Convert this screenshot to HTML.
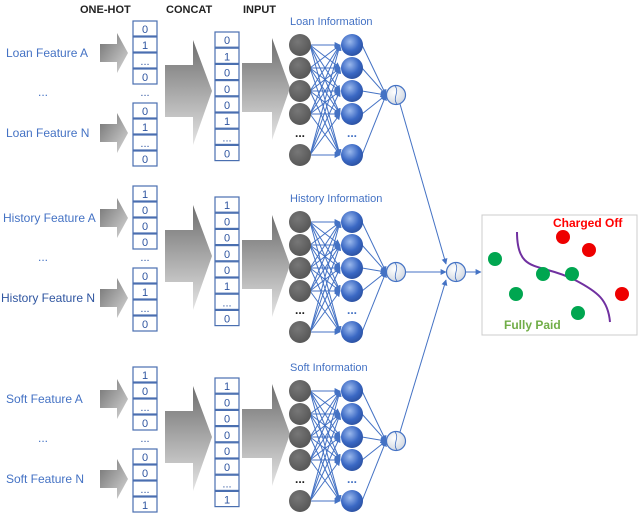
<!DOCTYPE html>
<html><head><meta charset="utf-8"><style>
html,body{margin:0;padding:0;background:#fff;}
svg{display:block;font-family:"Liberation Sans",sans-serif;}
</style></head><body>
<svg id="s" width="640" height="519" viewBox="0 0 640 519" xmlns="http://www.w3.org/2000/svg">
<defs>
<linearGradient id="ga" x1="0" y1="0" x2="0" y2="1"><stop offset="0" stop-color="#6e6e6e"/><stop offset="1" stop-color="#e4e4e4"/></linearGradient>
<linearGradient id="gs" x1="0" y1="0" x2="1" y2="1"><stop offset="0" stop-color="#707070"/><stop offset="1" stop-color="#d8d8d8"/></linearGradient>
<radialGradient id="gh" cx="0.4" cy="0.35" r="0.7"><stop offset="0" stop-color="#9ab8ec"/><stop offset="0.6" stop-color="#3a68c4"/><stop offset="1" stop-color="#2a4f9e"/></radialGradient>
<radialGradient id="gi" cx="0.4" cy="0.35" r="0.7"><stop offset="0" stop-color="#777"/><stop offset="1" stop-color="#555"/></radialGradient>
<radialGradient id="go" cx="0.4" cy="0.35" r="0.7"><stop offset="0" stop-color="#fff"/><stop offset="1" stop-color="#cfd6e0"/></radialGradient>
<marker id="ar" viewBox="0 0 10 10" refX="9" refY="5" markerWidth="6" markerHeight="6" orient="auto"><path d="M0,0L10,5L0,10z" fill="#4472c4"/></marker>
</defs>
<g font-size="11" font-weight="bold" fill="#222">
<text x="80" y="13">ONE-HOT</text><text x="166" y="13">CONCAT</text><text x="243" y="13">INPUT</text>
</g>
<g id="g"></g>
<rect x="482" y="215" width="155" height="120" fill="#fff" stroke="#ccc"/>
<path d="M517,232 C517,275 540,262 575,280 C598,292 608,300 610,322" fill="none" stroke="#7030a0" stroke-width="2"/>
<g fill="#e00"><circle cx="563" cy="237" r="7"/><circle cx="589" cy="250" r="7"/><circle cx="622" cy="294" r="7"/></g>
<g fill="#00a650"><circle cx="495" cy="259" r="7"/><circle cx="543" cy="274" r="7"/><circle cx="572" cy="274" r="7"/><circle cx="516" cy="294" r="7"/><circle cx="578" cy="313" r="7"/></g>
<text x="553" y="227" font-size="12" font-weight="bold" fill="#f00">Charged Off</text>
<text x="504" y="329" font-size="12" font-weight="bold" fill="#70ad47">Fully Paid</text>
</svg>
<script>
var g=document.getElementById('g'),h='';
var secs=[
 {l:0,r:0,title:'Loan Information',A:'Loan Feature A',N:'Loan Feature N',o1:['0','1','...','0'],o2:['0','1','...','0'],c:['0','1','0','0','0','1','...','0']},
 {l:165,r:177,title:'History Information',A:'History Feature A',N:'History Feature N',o1:['1','0','0','0'],o2:['0','1','...','0'],c:['1','0','0','0','0','1','...','0']},
 {l:346,r:346,title:'Soft Information',A:'Soft Feature A',N:'Soft Feature N',o1:['1','0','...','0'],o2:['0','0','...','1'],c:['1','0','0','0','0','0','...','1']}
];
function cells(x,y,w,hh,arr){var s='';arr.forEach(function(t,i){var yy=y+i*hh;s+='<rect x="'+x+'" y="'+yy+'" width="'+w+'" height="'+(hh-1)+'" fill="#fff" stroke="#4a6fb0" stroke-width="1.2"/><text x="'+(x+w/2)+'" y="'+(yy+hh-4)+'" text-anchor="middle" font-size="11" fill="#2f55a0">'+t+'</text>';});return s;}
function sarrow(cy){return '<path d="M100,'+(cy-9)+'H117V'+(cy-20)+'L128,'+cy+'L117,'+(cy+20)+'V'+(cy+9)+'H100z" fill="url(#gs)"/>';}
secs.forEach(function(S,k){
 var L=S.l,R=S.r;
 h+='<text x="'+(k==1?3:6)+'" y="'+(57+L)+'" font-size="12" fill="#4472c4">'+S.A+'</text>';
 h+='<text x="38" y="'+(96+L)+'" font-size="12" fill="#4472c4">...</text>';
 h+='<text x="'+(k==1?1:6)+'" y="'+(137+L)+'" font-size="12" fill="'+(k==1?'#2f55a0':'#4472c4')+'">'+S.N+'</text>';
 h+=sarrow(53+L)+sarrow(133+L);
 h+=cells(133,21+L,24,16,S.o1)+cells(133,103+L,24,16,S.o2);
 h+='<text x="145" y="'+(96+L)+'" font-size="11" fill="#2f55a0" text-anchor="middle">...</text>';
 h+='<path d="M165,'+(65+L)+'H193V'+(40+L)+'L212,'+(91+L)+'L193,'+(145+L)+'V'+(117+L)+'H165z" fill="url(#ga)"/>';
 h+=cells(215,32+L,24,16.2,S.c);
 h+='<path d="M242,'+(63+R)+'H272V'+(38+R)+'L290,'+(88+R)+'L272,'+(140+R)+'V'+(112+R)+'H242z" fill="url(#ga)"/>';
 h+='<text x="290" y="'+(25+R)+'" font-size="11" fill="#4472c4">'+S.title+'</text>';
 var ys=[45,68,91,114,155].map(function(v){return v+R;});
 var ox=396,oy=95+R;
 ys.forEach(function(a){ys.forEach(function(b){h+='<line x1="310" y1="'+a+'" x2="340" y2="'+b+'" stroke="#4472c4" stroke-width="1" marker-end="url(#ar)"/>';});});
 ys.forEach(function(b){h+='<line x1="362" y1="'+b+'" x2="386" y2="'+oy+'" stroke="#4472c4" stroke-width="1" marker-end="url(#ar)"/>';});
 ys.forEach(function(y){h+='<circle cx="300" cy="'+y+'" r="11" fill="url(#gi)"/><circle cx="352" cy="'+y+'" r="11" fill="url(#gh)"/>';});
 h+='<text x="300" y="'+(137+R)+'" font-size="12" font-weight="bold" text-anchor="middle" fill="#222">...</text>';
 h+='<text x="352" y="'+(137+R)+'" font-size="12" font-weight="bold" text-anchor="middle" fill="#4472c4">...</text>';
 h+='<line x1="'+(ox+4)+'" y1="'+(oy+(k==1?0:(k==0?9:-9)))+'" x2="446" y2="'+(272+(k==0?-8:(k==2?8:0)))+'" stroke="#4472c4" stroke-width="1" marker-end="url(#ar)"/>';
 h+='<circle cx="'+ox+'" cy="'+oy+'" r="9.5" fill="url(#go)" stroke="#4472c4" stroke-width="1.2"/><path d="M'+(ox-1)+','+(oy-9)+'C'+(ox+4)+','+(oy-3)+' '+(ox-4)+','+(oy+3)+' '+(ox+1)+','+(oy+9)+'" fill="none" stroke="#4472c4" stroke-width="0.8"/>';
});
h+='<line x1="466" y1="272" x2="481" y2="272" stroke="#4472c4" marker-end="url(#ar)"/>';
h+='<circle cx="456" cy="272" r="9.5" fill="url(#go)" stroke="#4472c4" stroke-width="1.2"/><path d="M455,263C460,269 452,275 457,281" fill="none" stroke="#4472c4" stroke-width="0.8"/>';
g.innerHTML=h;
</script>
</body></html>
